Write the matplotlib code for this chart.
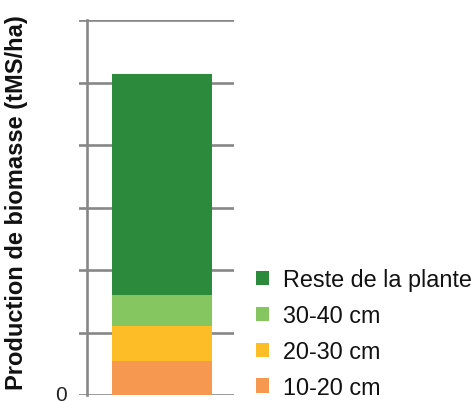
import matplotlib
matplotlib.use("Agg")
import matplotlib.pyplot as plt
from matplotlib.patches import Patch

plt.rcParams['font.family'] = ['Liberation Sans', 'DejaVu Sans']

segments = ["10-20 cm", "20-30 cm", "30-40 cm", "Reste de la plante"]
values = [0.54, 0.56, 0.50, 3.53]
colors = ["#f79850", "#fdbd26", "#85c660", "#2b8a3b"]
ytick_vals = [0, 1, 2, 3, 4, 5, 6]
zero_label = "0"

W, H = 477, 402
fig = plt.figure(figsize=(W / 100, H / 100), dpi=100)
ax = fig.add_axes([79 / W, 1 - 396 / H, (234 - 79) / W, (396 - 21) / H])

grey = "#878787"
bottom = 0
for name, v, c in zip(segments, values, colors):
    ax.bar(0.83, v, width=1.0, bottom=bottom, color=c, zorder=3, linewidth=0)
    bottom += v

ax.set_xlim(0, 1.55)
ax.set_ylim(0, 6)
ax.set_yticks(ytick_vals)
ax.set_yticklabels([""] * len(ytick_vals))
ax.set_xticks([])
ax.yaxis.grid(True, color=grey, linewidth=1.9, zorder=0)
ax.set_axisbelow(True)
for s in ["top", "right", "bottom"]:
    ax.spines[s].set_visible(False)
ax.spines["left"].set_position(("data", 0.077))
ax.spines["left"].set_color(grey)
ax.spines["left"].set_linewidth(1.9)
ax.spines["left"].set_zorder(1)
ax.tick_params(axis="y", length=0)

# "0" label at the bottom edge as in the reference
fig.text(66.5 / W, 0.5 / H, zero_label, ha="right", va="baseline",
         fontsize=15, color="#222222")

fig.text(17 / W, 1 - 203 / H, "Production de biomasse (tMS/ha)", rotation=90,
         ha="center", va="center", fontsize=17, fontweight="bold", color="#111111")

handles = [Patch(facecolor=c, edgecolor="none") for c in colors][::-1]
labels = segments[::-1]
fig.legend(handles, labels, loc="center left", bbox_to_anchor=(256 / W, 1 - 334.5 / H),
           frameon=False, fontsize=16.8, handlelength=0.56, handleheight=0.56,
           handletextpad=0.6, labelspacing=0.55, borderpad=0, borderaxespad=0,
           labelcolor="#111111")

fig.savefig("out.png", dpi=100)
